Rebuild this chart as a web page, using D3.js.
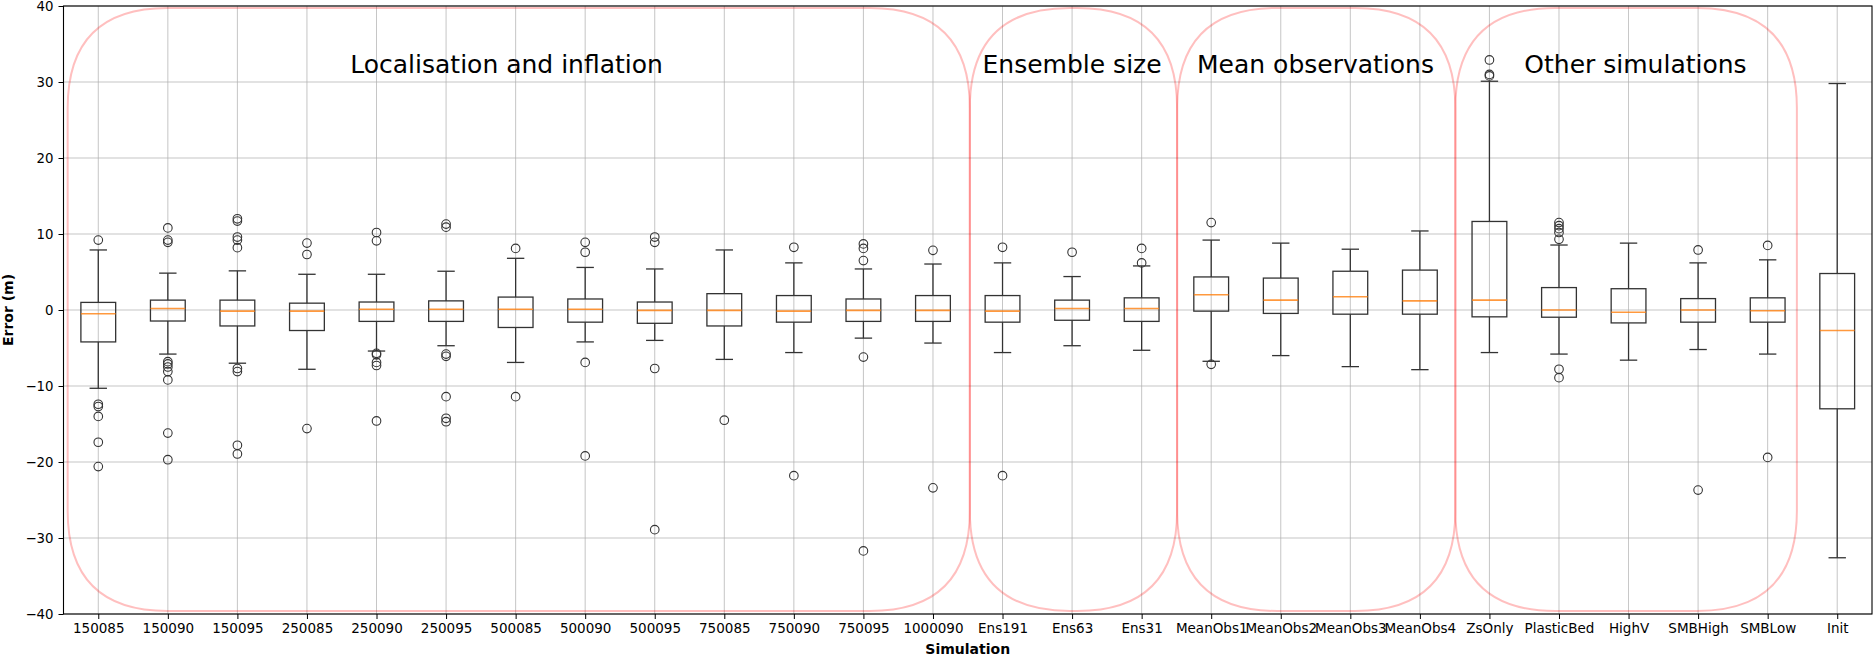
<!DOCTYPE html>
<html>
<head>
<meta charset="utf-8">
<script src="https://cdn.jsdelivr.net/npm/d3@7"></script>
<style>
  html, body { margin: 0; padding: 0; background: #fff; }
  svg { display: block; font-family: "DejaVu Sans", sans-serif; }
</style>
</head>
<body>
<div id="chart"></div>
<script>
// simulations, in plotting order
var categories = ["150085", "150090", "150095", "250085", "250090", "250095", "500085", "500090",
    "500095", "750085", "750090", "750095", "1000090", "Ens191", "Ens63", "Ens31",
    "MeanObs1", "MeanObs2", "MeanObs3", "MeanObs4", "ZsOnly", "PlasticBed", "HighV",
    "SMBHigh", "SMBLow", "Init"];

// box statistics (m)
var whiskerLow = [-10.3, -5.8, -7.0, -7.8, -5.4, -4.7, -6.9, -4.2, -4.0, -6.5, -5.6, -3.7, -4.35,
    -5.6, -4.7, -5.3, -6.75, -6.0, -7.45, -7.85, -5.6, -5.8, -6.6, -5.2, -5.8, -32.6];
var q1 = [-4.2, -1.45, -2.1, -2.7, -1.5, -1.5, -2.3, -1.6, -1.75, -2.1, -1.6, -1.5, -1.5,
    -1.6, -1.35, -1.5, -0.15, -0.45, -0.55, -0.55, -0.9, -0.95, -1.7, -1.6, -1.6, -13.0];
var medians = [-0.5, 0.2, -0.15, -0.15, 0.1, 0.1, 0.1, 0.1, -0.05, -0.05, -0.15, -0.05, -0.05,
    -0.15, 0.2, 0.2, 2.0, 1.3, 1.75, 1.2, 1.3, 0.0, -0.3, 0.0, -0.1, -2.7];
var q3 = [1.0, 1.3, 1.3, 0.9, 1.05, 1.2, 1.7, 1.45, 1.05, 2.15, 1.9, 1.45, 1.9,
    1.9, 1.3, 1.6, 4.35, 4.2, 5.1, 5.25, 11.65, 2.95, 2.8, 1.5, 1.6, 4.8];
var whiskerHigh = [7.9, 4.85, 5.15, 4.7, 4.7, 5.1, 6.8, 5.6, 5.4, 7.9, 6.2, 5.4, 6.05,
    6.2, 4.4, 5.8, 9.2, 8.8, 8.0, 10.4, 30.1, 8.55, 8.8, 6.2, 6.6, 29.8];
var fliers = [
    [9.2, -12.4, -12.7, -14.0, -17.4, -20.6],
    [10.8, 9.2, 8.9, -6.8, -7.1, -7.5, -8.1, -9.2, -16.2, -19.7],
    [12.0, 11.7, 9.6, 9.2, 8.2, -7.7, -8.1, -17.8, -18.95],
    [8.8, 7.3, -15.6],
    [10.2, 9.1, -5.7, -5.9, -6.9, -7.3, -14.6],
    [11.3, 10.9, -5.8, -6.1, -11.4, -14.25, -14.7],
    [8.1, -11.4],
    [8.9, 7.6, -6.9, -19.2],
    [9.6, 8.9, -7.7, -28.9],
    [-14.5],
    [8.25, -21.8],
    [8.7, 8.1, 6.5, -6.2, -31.7],
    [7.85, -23.4],
    [8.25, -21.8],
    [7.6],
    [8.1, 6.2],
    [11.5, -7.15],
    [],
    [],
    [],
    [32.9, 31.0, 30.8],
    [11.5, 11.1, 10.7, 10.2, 9.3, -7.8, -8.9],
    [],
    [7.9, -23.7],
    [8.5, -19.4],
    []
];

// annotation groups (x in box positions, y in m)
var groupNames = ["Localisation and inflation", "Ensemble size", "Mean observations", "Other simulations"];
var groupStart = [0.56, 13.53, 16.51, 20.51];
var groupEnd = [13.53, 16.51, 20.51, 25.42];
var groupLabelX = [6.87, 15.0, 18.5, 23.1];
var groupTop = 39.74, groupBottom = -39.6, groupLabelY = 31.2;

var yTicks = [-40, -30, -20, -10, 0, 10, 20, 30, 40];

var W = 1875, H = 656;
var margin = { left: 63.5, right: 3, top: 6, bottom: 42 };

var svg = d3.select("#chart").append("svg")
    .attr("width", W)
    .attr("height", H);

var x = d3.scaleLinear()
    .domain([0.5, categories.length + 0.5])
    .range([margin.left, W - margin.right]);

var y = d3.scaleLinear()
    .domain([-40, 40])
    .range([H - margin.bottom, margin.top]);

var positions = d3.range(1, categories.length + 1);

// grid
var grid = svg.append("g").attr("class", "grid");
grid.selectAll(".gx")
    .data(positions)
    .enter().append("line")
    .attr("x1", d => x(d)).attr("x2", d => x(d))
    .attr("y1", y(-40)).attr("y2", y(40))
    .attr("stroke", "#b0b0b0").attr("stroke-width", 0.9).attr("opacity", 0.8);
grid.selectAll(".gy")
    .data(yTicks)
    .enter().append("line")
    .attr("x1", x(0.5)).attr("x2", x(categories.length + 0.5))
    .attr("y1", d => y(d)).attr("y2", d => y(d))
    .attr("stroke", "#b0b0b0").attr("stroke-width", 0.9).attr("opacity", 0.8);

// rounded group frames (quadratic corners, like matplotlib's round boxstyle)
function roundedBox(x0, x1, y0, y1, r) {
    var p = d3.path();
    p.moveTo(x0 + r, y0);
    p.lineTo(x1 - r, y0);
    p.quadraticCurveTo(x1, y0, x1, y0 + r);
    p.lineTo(x1, y1 - r);
    p.quadraticCurveTo(x1, y1, x1 - r, y1);
    p.lineTo(x0 + r, y1);
    p.quadraticCurveTo(x0, y1, x0, y1 - r);
    p.lineTo(x0, y0 + r);
    p.quadraticCurveTo(x0, y0, x0 + r, y0);
    p.closePath();
    return p.toString();
}

svg.append("g").attr("class", "groups")
    .selectAll("path")
    .data(groupNames)
    .enter().append("path")
    .attr("d", (d, i) => roundedBox(x(groupStart[i]), x(groupEnd[i]), y(groupTop), y(groupBottom), 100))
    .attr("fill", "none")
    .attr("stroke", "red")
    .attr("stroke-opacity", 0.25)
    .attr("stroke-width", 2);

// boxes
var boxW = x(1.25) - x(1);   // half width of box (0.5 wide)
var capW = boxW / 2;
var line = "#333";

var boxes = svg.append("g").attr("class", "boxes")
    .selectAll("g")
    .data(categories)
    .enter().append("g");

boxes.append("line")
    .attr("x1", (d, i) => x(i + 1)).attr("x2", (d, i) => x(i + 1))
    .attr("y1", (d, i) => y(q1[i])).attr("y2", (d, i) => y(whiskerLow[i]))
    .attr("stroke", line).attr("stroke-width", 1.3);
boxes.append("line")
    .attr("x1", (d, i) => x(i + 1)).attr("x2", (d, i) => x(i + 1))
    .attr("y1", (d, i) => y(q3[i])).attr("y2", (d, i) => y(whiskerHigh[i]))
    .attr("stroke", line).attr("stroke-width", 1.3);
boxes.append("line")
    .attr("x1", (d, i) => x(i + 1) - capW).attr("x2", (d, i) => x(i + 1) + capW)
    .attr("y1", (d, i) => y(whiskerLow[i])).attr("y2", (d, i) => y(whiskerLow[i]))
    .attr("stroke", line).attr("stroke-width", 1.3);
boxes.append("line")
    .attr("x1", (d, i) => x(i + 1) - capW).attr("x2", (d, i) => x(i + 1) + capW)
    .attr("y1", (d, i) => y(whiskerHigh[i])).attr("y2", (d, i) => y(whiskerHigh[i]))
    .attr("stroke", line).attr("stroke-width", 1.3);
boxes.append("rect")
    .attr("x", (d, i) => x(i + 1) - boxW)
    .attr("width", boxW * 2)
    .attr("y", (d, i) => y(q3[i]))
    .attr("height", (d, i) => y(q1[i]) - y(q3[i]))
    .attr("fill", "none")
    .attr("stroke", line).attr("stroke-width", 1.3);
boxes.append("line")
    .attr("x1", (d, i) => x(i + 1) - boxW).attr("x2", (d, i) => x(i + 1) + boxW)
    .attr("y1", (d, i) => y(medians[i])).attr("y2", (d, i) => y(medians[i]))
    .attr("stroke", "#ff7f0e").attr("stroke-width", 1.6).attr("stroke-opacity", 0.8);

boxes.selectAll("circle")
    .data((d, i) => fliers[i].map(v => ({ pos: i + 1, v: v })))
    .enter().append("circle")
    .attr("cx", d => x(d.pos))
    .attr("cy", d => y(d.v))
    .attr("r", 4.3)
    .attr("fill", "none")
    .attr("stroke", line)
    .attr("stroke-width", 1.1);

// group titles
svg.append("g").attr("class", "group-labels")
    .selectAll("text")
    .data(groupNames)
    .enter().append("text")
    .attr("x", (d, i) => x(groupLabelX[i]))
    .attr("y", y(groupLabelY))
    .attr("text-anchor", "middle")
    .attr("font-size", "25px")
    .attr("fill", "#000")
    .text(d => d);

// axes
var xAxis = d3.axisBottom(x)
    .tickValues(positions)
    .tickFormat(d => categories[d - 1])
    .tickSize(5)
    .tickPadding(4);
var yAxis = d3.axisLeft(y)
    .tickValues(yTicks)
    .tickFormat(d => d < 0 ? "\u2212" + Math.abs(d) : d)
    .tickSize(5)
    .tickPadding(5);

var gx = svg.append("g")
    .attr("transform", `translate(0,${y(-40)})`)
    .call(xAxis);
gx.select(".domain").remove();
gx.selectAll("text").attr("font-size", "13.5px").attr("fill", "#000").attr("font-family", "DejaVu Sans");
gx.selectAll("line").attr("stroke", "#000").attr("stroke-width", 1);

var gy = svg.append("g")
    .attr("transform", `translate(${x(0.5)},0)`)
    .call(yAxis);
gy.select(".domain").remove();
gy.selectAll("text").attr("font-size", "13.3px").attr("fill", "#000").attr("font-family", "DejaVu Sans");
gy.selectAll("line").attr("stroke", "#000").attr("stroke-width", 1);

// spines
svg.append("rect")
    .attr("x", x(0.5)).attr("y", y(40))
    .attr("width", x(categories.length + 0.5) - x(0.5))
    .attr("height", y(-40) - y(40))
    .attr("fill", "none")
    .attr("stroke", "#000")
    .attr("stroke-width", 1.1);

// axis titles
svg.append("text")
    .attr("x", (x(0.5) + x(categories.length + 0.5)) / 2)
    .attr("y", 654)
    .attr("text-anchor", "middle")
    .attr("font-size", "14px")
    .attr("font-weight", "bold")
    .text("Simulation");

svg.append("text")
    .attr("transform", `translate(13,${(y(40) + y(-40)) / 2}) rotate(-90)`)
    .attr("text-anchor", "middle")
    .attr("font-size", "14px")
    .attr("font-weight", "bold")
    .text("Error (m)");
</script>
</body>
</html>
